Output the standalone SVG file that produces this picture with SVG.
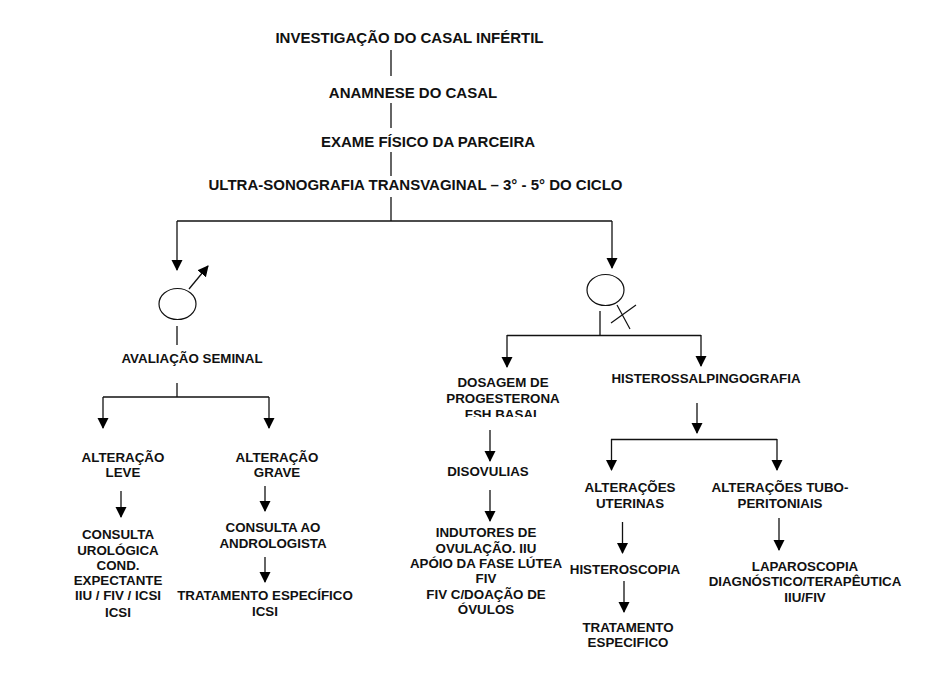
<svg xmlns="http://www.w3.org/2000/svg" width="950" height="688" viewBox="0 0 950 688">
<defs>
<marker id="ah" markerUnits="userSpaceOnUse" markerWidth="11" markerHeight="12" refX="10" refY="5.5" orient="auto"><path d="M0 0L11 5.5L0 11Z" fill="#000"/></marker>
<clipPath id="cut"><rect x="420" y="370" width="170" height="47"/></clipPath>
</defs>
<style>
text{font-family:"Liberation Sans",Arial,sans-serif;font-weight:bold;font-size:13.35px;text-anchor:middle;fill:#111}
.big{font-size:15px}
.c line,.c path{stroke:#111;stroke-width:1.3;fill:none}
.c .a{marker-end:url(#ah)}
ellipse,.sym{fill:none;stroke:#111;stroke-width:1.2}
</style>
<rect width="950" height="688" fill="#fff"/>
<g id="connectors" class="c">
<line x1="391" y1="50" x2="391" y2="76"/>
<line x1="391" y1="103" x2="391" y2="128"/>
<line x1="391" y1="152" x2="391" y2="176"/>
<line x1="391" y1="197" x2="391" y2="221"/>
<line x1="177" y1="221" x2="612" y2="221"/>
<line class="a" x1="177" y1="221" x2="177" y2="270"/>
<line class="a" x1="612" y1="221" x2="612" y2="268"/>
<line x1="177" y1="326" x2="177" y2="345"/>
<line x1="177" y1="383" x2="177" y2="397"/>
<line x1="103" y1="397" x2="269" y2="397"/>
<line class="a" x1="103" y1="397" x2="103" y2="428"/>
<line class="a" x1="269" y1="397" x2="269" y2="428"/>
<line x1="600" y1="311" x2="600" y2="335"/>
<line x1="507" y1="335.500" x2="701" y2="335.500"/>
<line class="a" x1="507" y1="335" x2="507" y2="367"/>
<line class="a" x1="701" y1="335" x2="701" y2="366"/>
<line class="a" x1="697" y1="403" x2="697" y2="433"/>
<line x1="611" y1="439.500" x2="777" y2="439.500"/>
<line class="a" x1="611.500" y1="439" x2="611.500" y2="470"/>
<line class="a" x1="777" y1="439" x2="777" y2="470"/>
<line class="a" x1="490" y1="430" x2="490" y2="461"/>
<line class="a" x1="490" y1="490" x2="490" y2="521"/>
<line class="a" x1="622.500" y1="522" x2="622.500" y2="553"/>
<line class="a" x1="624" y1="581" x2="624" y2="612"/>
<line class="a" x1="779" y1="518" x2="779" y2="550"/>
<line class="a" x1="121" y1="491" x2="121" y2="517"/>
<line class="a" x1="265" y1="486" x2="265" y2="511"/>
<line class="a" x1="265" y1="557" x2="265" y2="582"/>
</g>
<g id="n-titulo"><text class="big" x="409.500" y="43">INVESTIGAÇÃO DO CASAL INFÉRTIL</text></g>
<g id="n-anamnese"><text class="big" x="413" y="98">ANAMNESE DO CASAL</text></g>
<g id="n-exame"><text class="big" x="428" y="147">EXAME FÍSICO DA PARCEIRA</text></g>
<g id="n-ultra"><text class="big" x="415.500" y="190">ULTRA-SONOGRAFIA TRANSVAGINAL – 3° - 5° DO CICLO</text></g>
<g id="n-masc">
<ellipse cx="177.500" cy="304" rx="18.500" ry="15.500"/>
<line x1="189" y1="289" x2="208" y2="266" stroke="#111" stroke-width="1.300" marker-end="url(#ah)"/>
</g>
<g id="n-fem">
<ellipse cx="605.500" cy="290" rx="18.500" ry="15.500"/>
<path class="sym" d="M617 305L630 329M611 323L636 305"/>
</g>
<g id="n-seminal"><text x="192" y="363">AVALIAÇÃO SEMINAL</text></g>
<g id="n-leve"><text x="123" y="462">ALTERAÇÃO</text><text x="123" y="477">LEVE</text></g>
<g id="n-grave"><text x="277" y="462">ALTERAÇÃO</text><text x="277" y="477">GRAVE</text></g>
<g id="n-urologica">
<text x="118" y="539">CONSULTA</text><text x="118" y="555">UROLÓGICA</text><text x="118" y="570">COND.</text><text x="118" y="585">EXPECTANTE</text><text x="118" y="600">IIU / FIV / ICSI</text><text x="118" y="617">ICSI</text>
</g>
<g id="n-androl"><text x="273" y="532">CONSULTA AO</text><text x="273" y="548">ANDROLOGISTA</text></g>
<g id="n-trat1"><text x="265" y="600">TRATAMENTO ESPECÍFICO</text><text x="265" y="616">ICSI</text></g>
<g id="n-dosagem">
<text x="503" y="387">DOSAGEM DE</text><text x="503" y="403">PROGESTERONA</text><text x="503" y="419" clip-path="url(#cut)">FSH BASAL</text>
</g>
<g id="n-histero"><text x="706" y="383">HISTEROSSALPINGOGRAFIA</text></g>
<g id="n-disov"><text x="488" y="476">DISOVULIAS</text></g>
<g id="n-indutores">
<text x="486" y="537">INDUTORES DE</text><text x="486" y="553">OVULAÇÃO. IIU</text><text x="486" y="568">APÓIO DA FASE LÚTEA</text><text x="486" y="583">FIV</text><text x="486" y="599">FIV C/DOAÇÃO DE</text><text x="486" y="614">ÓVULOS</text>
</g>
<g id="n-uterinas"><text x="630" y="492">ALTERAÇÕES</text><text x="630" y="508">UTERINAS</text></g>
<g id="n-tubo"><text x="780" y="492">ALTERAÇÕES TUBO-</text><text x="780" y="508">PERITONIAIS</text></g>
<g id="n-histeroscopia"><text x="625" y="574">HISTEROSCOPIA</text></g>
<g id="n-trat2"><text x="628" y="632">TRATAMENTO</text><text x="628" y="647">ESPECIFICO</text></g>
<g id="n-laparo"><text x="805" y="571">LAPAROSCOPIA</text><text x="805" y="586">DIAGNÓSTICO/TERAPÊUTICA</text><text x="805" y="602">IIU/FIV</text></g>
</svg>
